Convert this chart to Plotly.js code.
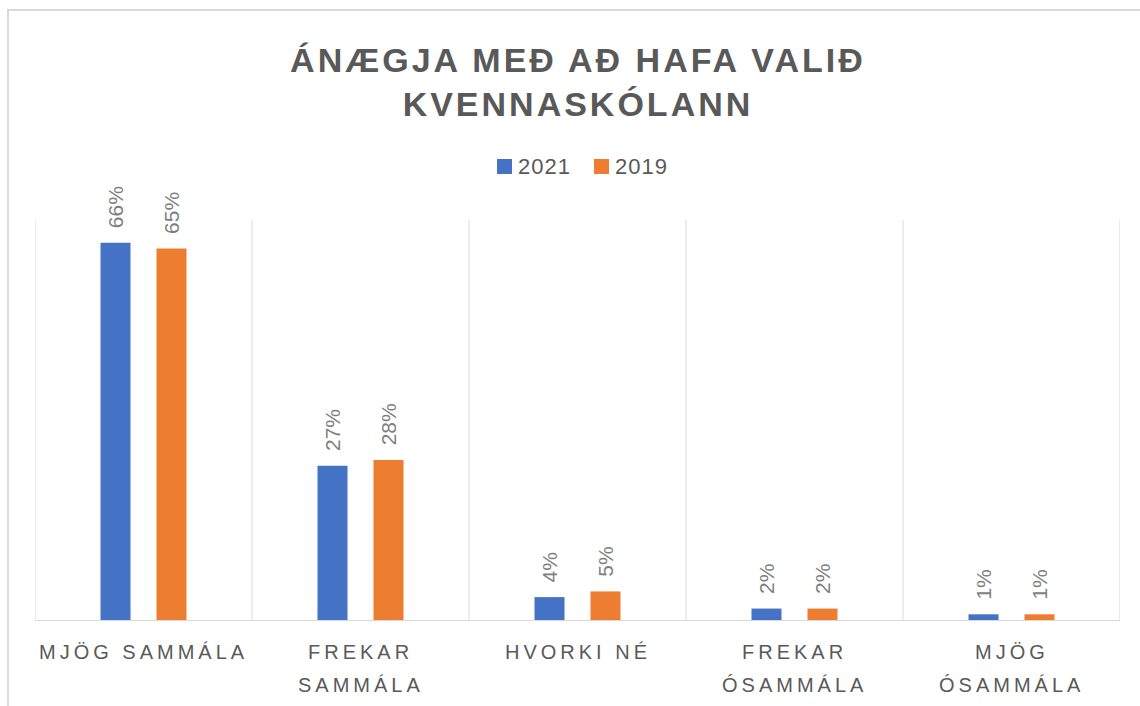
<!DOCTYPE html>
<html>
<head>
<meta charset="utf-8">
<script src="https://cdn.plot.ly/plotly-3.0.1.min.js"></script>
<style>
  html, body { margin: 0; padding: 0; background: #fff; }
  #frame { position: absolute; left: 7px; top: 9px; width: 1140px; height: 706px; z-index: 5;
           pointer-events: none;
           border-left: 2px solid #d9d9d9; border-top: 2px solid #d9d9d9; }
  #chart { position: absolute; left: 0; top: 0; width: 1140px; height: 706px; }
  .gtitle { letter-spacing: 3px; }
  .annotation-text { letter-spacing: 4px; }
</style>
</head>
<body>
<div id="frame"></div>
<div id="chart"></div>
<script>
const categories = ["MJÖG SAMMÁLA", "FREKAR<br>SAMMÁLA", "HVORKI NÉ", "FREKAR<br>ÓSAMMÁLA", "MJÖG<br>ÓSAMMÁLA"];
const series2021 = [66, 27, 4, 2, 1];
const series2019 = [65, 28, 5, 2, 1];
const seriesNames = ["2021", "2019"];
const colors = ["#4472c4", "#ed7d31"];

const FONT = "Liberation Sans, Arial, sans-serif";
const labelFont = { family: FONT, size: 21, color: "#7f7f7f" };

function barTrace(name, vals, color) {
  return {
    type: "bar", name: name, x: categories, y: vals,
    marker: { color: color },
    text: vals.map(v => "\u00a0\u00a0" + v + "%"),
    textposition: "outside", textangle: -90, constraintext: "none",
    textfont: labelFont, cliponaxis: false,
    hoverinfo: "skip", showlegend: false
  };
}

const data = [
  barTrace(seriesNames[0], series2021, colors[0]),
  barTrace(seriesNames[1], series2019, colors[1])
];

// plot area in pixels (for converting legend placement to paper coords)
const M = { l: 35, r: 20, t: 220, b: 86 };
const W = 1140, H = 706;
const pw = W - M.l - M.r, ph = H - M.t - M.b;
const px = x => (x - M.l) / pw;
const py = y => (H - M.b - y) / ph;

const boundaries = [];
for (let i = 0; i <= categories.length; i++) boundaries.push(i - 0.5);

const shapes = boundaries.map(b => ({
  type: "line", xref: "x", yref: "paper", x0: b, x1: b, y0: 0, y1: 1,
  line: { color: "#d9d9d9", width: 1 }, layer: "below"
}));

// category labels drawn as annotations (one per line) so line spacing matches
const annotations = [];
categories.forEach((c, i) => {
  c.split("<br>").forEach((line, j) => {
    annotations.push({
      xref: "x", yref: "paper", x: categories[i], y: 0,
      text: line, showarrow: false, xanchor: "center", yanchor: "middle",
      yshift: -32 - 33 * j,
      font: { family: FONT, size: 20, color: "#595959" }
    });
  });
});

// custom legend: square swatches + labels
const legendX = [497, 594];
seriesNames.forEach((n, i) => {
  shapes.push({
    type: "rect", xref: "paper", yref: "paper",
    x0: px(legendX[i]), x1: px(legendX[i] + 15), y0: py(174), y1: py(159),
    fillcolor: colors[i], line: { width: 0 }
  });
  annotations.push({
    xref: "paper", yref: "paper", x: px(legendX[i] + 13), y: py(167),
    text: n, showarrow: false, xanchor: "left", yanchor: "middle",
    font: { family: FONT, size: 22, color: "#595959" }
  });
});

const layout = {
  width: W, height: H,
  paper_bgcolor: "rgba(0,0,0,0)", plot_bgcolor: "rgba(0,0,0,0)",
  margin: M,
  title: {
    text: "ÁNÆGJA MEÐ AÐ HAFA VALIÐ<br>KVENNASKÓLANN",
    font: { family: FONT, size: 34, color: "#595959", weight: "bold" },
    x: 0.507, xanchor: "center", xref: "container",
    y: 1 - 72 / 706, yanchor: "top", yref: "container"
  },
  showlegend: false,
  barmode: "group",
  bargap: 0.484,
  bargroupgap: 0.464,
  xaxis: {
    type: "category",
    showline: true, linecolor: "#d9d9d9", linewidth: 1,
    showgrid: false, ticks: "", showticklabels: false,
    range: [-0.5, 4.5], fixedrange: true
  },
  yaxis: {
    range: [0, 70], showgrid: false, zeroline: false,
    showticklabels: false, ticks: "", showline: false, fixedrange: true
  },
  shapes: shapes,
  annotations: annotations
};

Plotly.newPlot("chart", data, layout, { displayModeBar: false, staticPlot: true }).then(() => {
  // legend labels use tighter letter spacing than axis labels
  document.querySelectorAll(".annotation-text").forEach(t => {
    if (seriesNames.includes(t.textContent)) t.style.letterSpacing = "1px";
  });
});
</script>
</body>
</html>
